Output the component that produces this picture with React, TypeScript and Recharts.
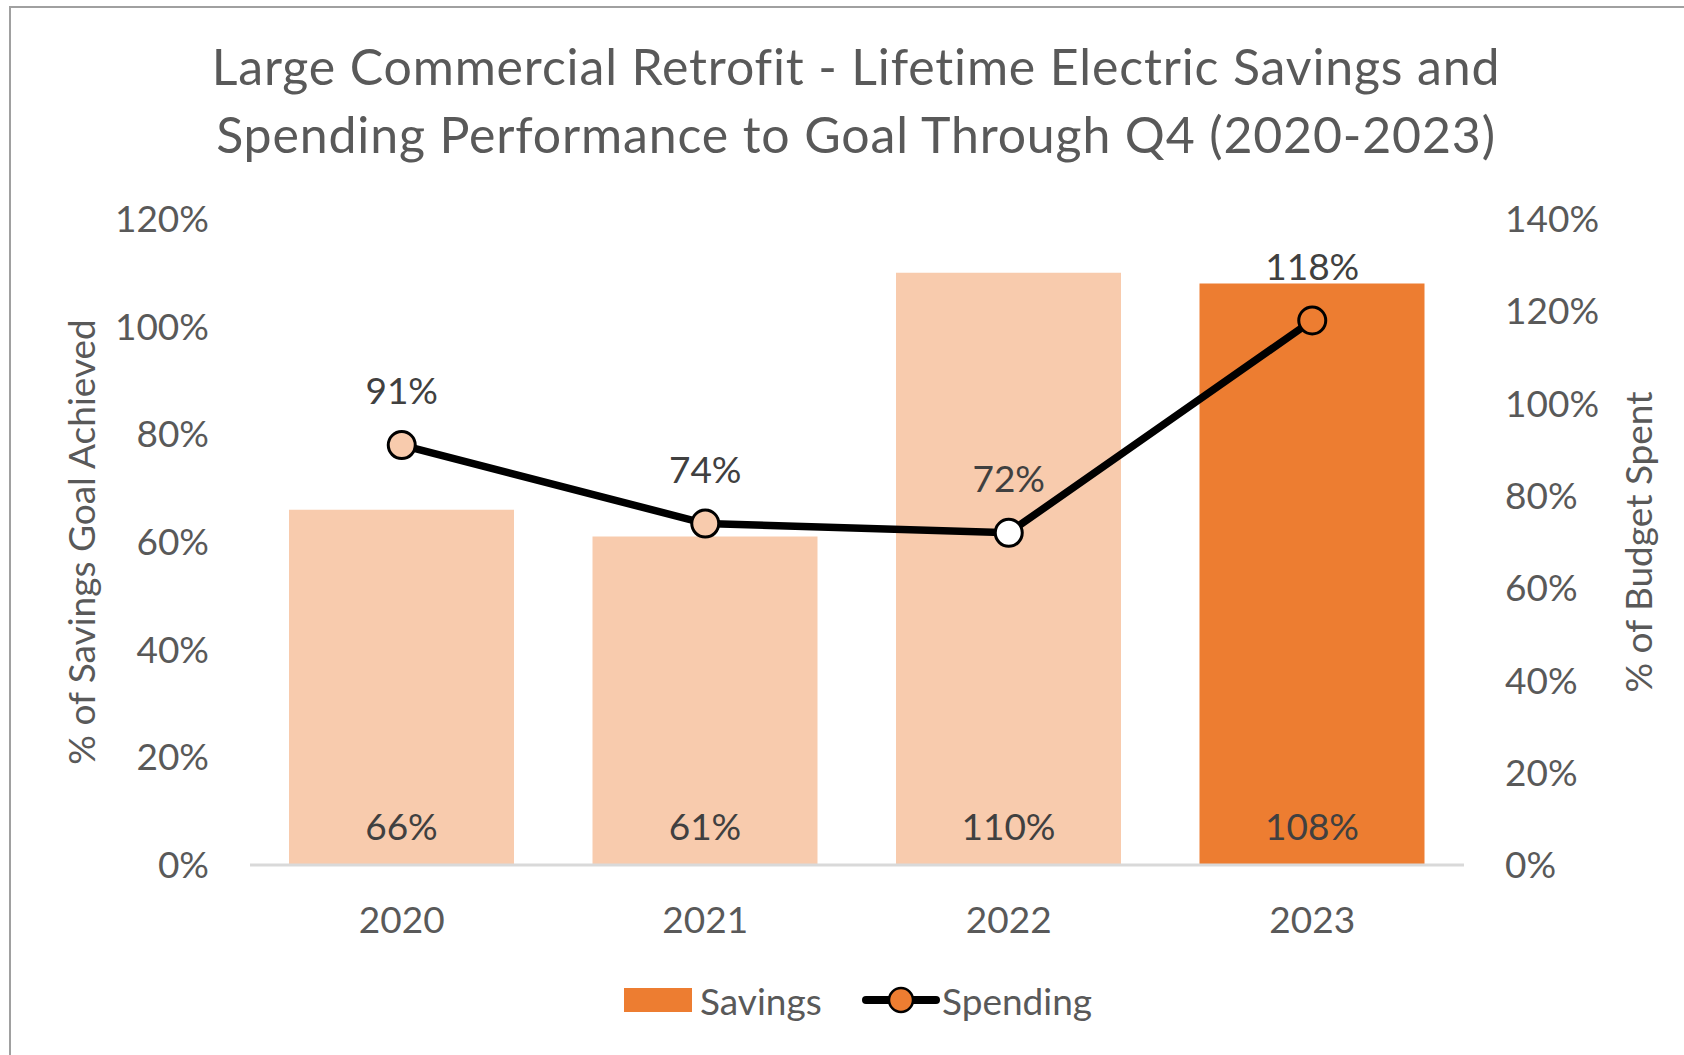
import React from 'react'
import {
  ComposedChart,
  Bar,
  Line,
  XAxis,
  YAxis,
  Cell,
  LabelList,
  Legend,
} from 'recharts'

const years = ['2020', '2021', '2022', '2023']
const savingsPct = [66, 61, 110, 108]
const spendingPct = [91, 74, 72, 118]
const leftTicks = [0, 20, 40, 60, 80, 100, 120]
const rightTicks = [0, 20, 40, 60, 80, 100, 120, 140]

const barFills = ['#F8CBAD', '#F8CBAD', '#F8CBAD', '#ED7D31']
const markerFills = ['#F8CBAD', '#F8CBAD', '#FFFFFF', '#ED7D31']

const FONT = 'Lato, "Open Sans", sans-serif'
const GREY = '#595959'
const DARK = '#404040'

const data = years.map((year, i) => ({
  year,
  savings: savingsPct[i],
  spending: spendingPct[i],
}))

const pct = (v: any) => `${v}%`

function AxisTitle({ viewBox, text, cx }: any) {
  const cy = viewBox ? viewBox.y + viewBox.height / 2 : 542
  return (
    <text
      x={cx}
      y={cy}
      transform={`rotate(-90 ${cx} ${cy})`}
      textAnchor="middle"
      dominantBaseline="central"
      fill={GREY}
      fontSize={37}
      fontFamily={FONT}
    >
      {text}
    </text>
  )
}

function SpendingDot({ cx, cy, index }: any) {
  return (
    <circle
      key={`dot-${index}`}
      cx={cx}
      cy={cy}
      r={13.5}
      fill={markerFills[index]}
      stroke="#000"
      strokeWidth={3}
    />
  )
}

function LegendContent({ payload }: any) {
  const items = payload || []
  const name = (key: string, fallback: string) =>
    items.find((p: any) => p.dataKey === key)?.value ?? fallback
  return (
    <div
      style={{
        display: 'flex',
        alignItems: 'center',
        height: 40,
        paddingLeft: 624,
        fontFamily: FONT,
        fontSize: 37,
        color: GREY,
      }}
    >
      <div style={{ display: 'flex', alignItems: 'center', width: 238 }}>
        <span style={{ width: 68, height: 24, background: '#ED7D31', marginRight: 8 }} />
        <span>{name('savings', 'Savings')}</span>
      </div>
      <div style={{ display: 'flex', alignItems: 'center' }}>
        <svg width={78} height={30} style={{ marginRight: 2 }}>
          <line x1={4} y1={15} x2={74} y2={15} stroke="#000" strokeWidth={8} strokeLinecap="round" />
          <circle cx={39} cy={15} r={12} fill="#ED7D31" stroke="#000" strokeWidth={2.5} />
        </svg>
        <span>{name('spending', 'Spending')}</span>
      </div>
    </div>
  )
}

export default function App() {
  return (
    <div
      style={{
        position: 'absolute',
        left: 0,
        top: 0,
        width: 1684,
        height: 1055,
        background: '#fff',
        overflow: 'hidden',
        fontFamily: FONT,
      }}
    >
      <div
        style={{
          position: 'absolute',
          left: 9,
          top: 6,
          right: 0,
          bottom: 0,
          borderLeft: '2px solid #A0A0A0',
          borderTop: '2px solid #A0A0A0',
        }}
      />
      <div
        style={{
          position: 'absolute',
          left: 56,
          top: 32,
          width: 1600,
          textAlign: 'center',
          fontSize: 50,
          letterSpacing: 0.85,
          lineHeight: '68px',
          color: GREY,
        }}
      >
        Large Commercial Retrofit - Lifetime Electric Savings and
        <br />
        Spending Performance to Goal Through Q4 (2020-2023)
      </div>
      <ComposedChart
        width={1684}
        height={1055}
        data={data}
        margin={{ top: 219, right: 0, bottom: 50, left: 0 }}
        style={{ position: 'absolute', left: 0, top: 0 }}
      >
        <XAxis
          dataKey="year"
          height={100}
          axisLine={{ stroke: '#D9D9D9', strokeWidth: 3 }}
          tickLine={false}
          tickSize={0}
          tickMargin={42}
          tick={{ fill: GREY, fontSize: 37, fontFamily: FONT }}
        />
        <YAxis
          yAxisId="left"
          orientation="left"
          width={250}
          domain={[0, 120]}
          ticks={leftTicks}
          tickFormatter={pct}
          axisLine={false}
          tickLine={false}
          tickSize={0}
          tickMargin={41}
          tick={{ fill: GREY, fontSize: 37, fontFamily: FONT }}
          label={<AxisTitle text="% of Savings Goal Achieved" cx={80} />}
        />
        <YAxis
          yAxisId="right"
          orientation="right"
          width={220}
          domain={[0, 140]}
          ticks={rightTicks}
          tickFormatter={pct}
          axisLine={false}
          tickLine={false}
          tickSize={0}
          tickMargin={41}
          tick={{ fill: GREY, fontSize: 37, fontFamily: FONT }}
          label={<AxisTitle text="% of Budget Spent" cx={1637} />}
        />
        <Legend
          verticalAlign="bottom"
          content={<LegendContent />}
          wrapperStyle={{ top: 980, bottom: 'auto', left: 0, width: 1684, height: 40 }}
        />
        <Bar
          yAxisId="left"
          dataKey="savings"
          name="Savings"
          fill="#ED7D31"
          barSize={225}
          isAnimationActive={false}
        >
          {data.map((d, i) => (
            <Cell key={d.year} fill={barFills[i]} />
          ))}
          <LabelList
            dataKey="savings"
            position="insideBottom"
            offset={25}
            formatter={pct}
            fill={DARK}
            fontSize={37}
            fontFamily={FONT}
          />
        </Bar>
        <Line
          yAxisId="right"
          dataKey="spending"
          name="Spending"
          stroke="#000"
          strokeWidth={7.5}
          dot={<SpendingDot />}
          activeDot={false}
          isAnimationActive={false}
        >
          <LabelList
            dataKey="spending"
            position="top"
            offset={41}
            formatter={pct}
            fill={DARK}
            fontSize={37}
            fontFamily={FONT}
          />
        </Line>
      </ComposedChart>
    </div>
  )
}
